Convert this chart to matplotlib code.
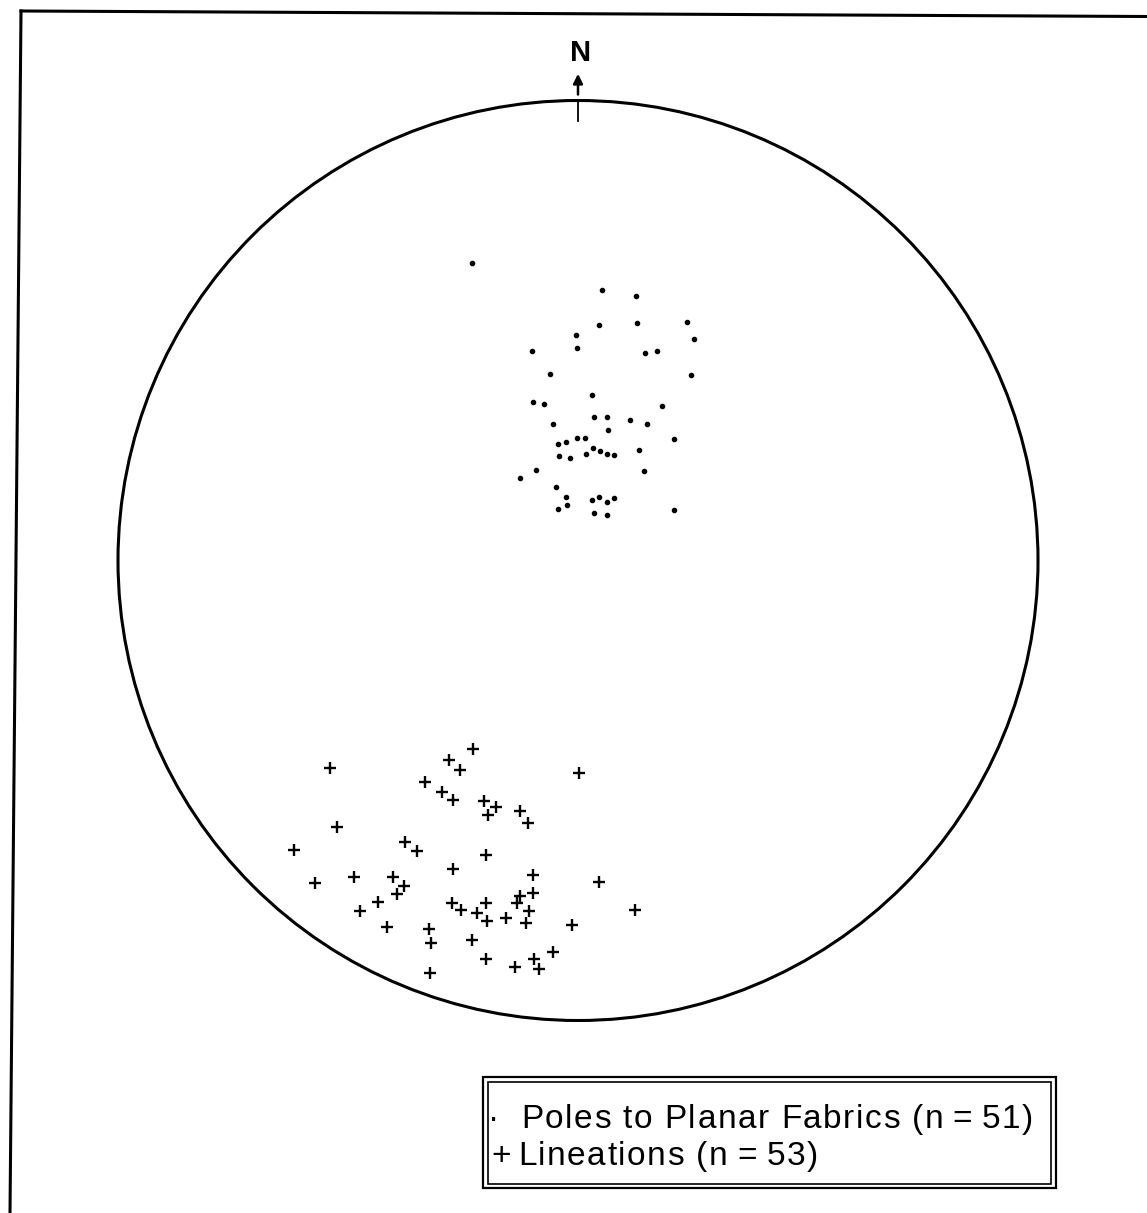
import matplotlib
matplotlib.use("Agg")
import numpy as np
import matplotlib.pyplot as plt
from matplotlib.patches import Circle, Rectangle
from matplotlib.lines import Line2D
from matplotlib.font_manager import findfont, FontProperties
from matplotlib.ft2font import FT2Font

# equal-area net coordinates (unit circle, x = east, y = north)
poles_x = [-0.230, 0.053, 0.125, 0.046, 0.129, 0.238, 0.252, -0.004, -0.002, -0.101,
           0.146, 0.171, -0.061, 0.246, 0.030, -0.097, -0.073, 0.183, 0.035, 0.062,
           -0.055, 0.112, 0.150, 0.065, 0.209, -0.002, 0.015, -0.043, -0.027, 0.032,
           0.048, 0.018, 0.062, 0.078, 0.133, -0.042, -0.017, -0.091, 0.143, -0.127,
           -0.048, -0.026, 0.031, 0.046, 0.078, 0.062, -0.024, -0.043, 0.209, 0.035,
           0.062]
poles_y = [0.647, 0.588, 0.574, 0.511, 0.516, 0.518, 0.482, 0.490, 0.463, 0.456,
           0.451, 0.455, 0.405, 0.403, 0.359, 0.344, 0.340, 0.336, 0.313, 0.313,
           0.297, 0.305, 0.296, 0.284, 0.265, 0.266, 0.266, 0.254, 0.258, 0.244,
           0.239, 0.232, 0.232, 0.229, 0.240, 0.227, 0.223, 0.197, 0.194, 0.179,
           0.160, 0.139, 0.132, 0.137, 0.135, 0.127, 0.120, 0.111, 0.110, 0.104,
           0.100]

lin_x = [-0.228, -0.280, -0.257, 0.003, -0.333, -0.296, -0.271, -0.204, -0.179, -0.196,
         -0.126, -0.108, -0.377, -0.349, -0.200, -0.272, -0.098, 0.045, -0.378, -0.097,
         -0.126, -0.133, -0.275, -0.254, -0.200, -0.220, -0.197, -0.157, -0.106, -0.112,
         0.124, -0.012, -0.323, -0.320, -0.231, -0.055, -0.201, -0.138, -0.095, -0.084,
         -0.322, -0.539, -0.523, -0.617, -0.572, -0.487, -0.403, -0.394, -0.434, -0.474,
         -0.415]
lin_y = [-0.410, -0.434, -0.455, -0.463, -0.482, -0.504, -0.521, -0.523, -0.535, -0.553,
         -0.544, -0.571, -0.612, -0.632, -0.640, -0.671, -0.683, -0.699, -0.708, -0.723,
         -0.729, -0.745, -0.745, -0.760, -0.745, -0.767, -0.783, -0.777, -0.763, -0.789,
         -0.760, -0.792, -0.802, -0.832, -0.825, -0.850, -0.866, -0.883, -0.866, -0.889,
         -0.896, -0.450, -0.580, -0.629, -0.702, -0.689, -0.689, -0.725, -0.742, -0.763,
         -0.796]

n_poles = 51
n_lin = 53
legend_labels = ['Poles to Planar Fabrics (n\u2009=\u2009%d)' % n_poles,
                 'Lineations (n\u2009=\u2009%d)' % n_lin]
legend_symbols = ['\u00b7', '+']

W, H = 1147, 1213
DPI = 100
FONT = 'Liberation Sans'
fig = plt.figure(figsize=(W / DPI, H / DPI), dpi=DPI)
fig.patch.set_facecolor('white')
plt.rcParams['font.family'] = [FONT, 'DejaVu Sans']


def fx(px):
    return px / W


def fy(py):
    return 1 - py / H


def advances(s, size):
    f = FT2Font(findfont(FontProperties(family=FONT)), hinting_factor=1)
    f.set_size(size, DPI)
    return [f.load_char(ord(c)).linearHoriAdvance / 65536.0 for c in s]


def tracked_text(x, y, s, size, track):
    # old typeset look: letters drawn one by one with a little extra spacing
    for c, adv in zip(s, advances(s, size)):
        fig.text(fx(x), fy(y), c, fontsize=size, ha='left', va='baseline')
        x += adv + track


# net: centre (578, 560.5) px, radius 460 px
ax = fig.add_axes([fx(118), fy(1020.5), 920 / W, 920 / H])
ax.set_xlim(-1, 1)
ax.set_ylim(-1, 1)
ax.axis('off')

ax.add_patch(Circle((0, 0), 1, fill=False, lw=2.2, color='black', clip_on=False))
ax.plot([0, 0], [1.0, 0.955], color='black', lw=1.3, clip_on=False)
ax.annotate('', xy=(0, 1.058), xytext=(0, 1.013),
            arrowprops=dict(arrowstyle='-|>', color='black', lw=1.8,
                            mutation_scale=14, shrinkA=0, shrinkB=0),
            annotation_clip=False)
ax.text(0.006, 1.104, 'N', ha='center', va='center', fontsize=21,
        fontweight='bold', clip_on=False)

ax.plot(poles_x, poles_y, 'o', color='black', markersize=3.0, clip_on=False)
ax.plot(lin_x, lin_y, '+', color='black', markersize=8, markeredgewidth=1.7,
        clip_on=False)

# frame lines of the page
fig.add_artist(Line2D([fx(21), fx(1147)], [fy(11), fy(16.5)], color='black', lw=2.2))
fig.add_artist(Line2D([fx(21), fx(10)], [fy(11), fy(1213)], color='black', lw=2.2))

# legend box (double frame)
fig.add_artist(Rectangle((fx(483), fy(1188)), fx(1056) - fx(483), fy(1077) - fy(1188),
                         fill=False, lw=1.6, color='black', transform=fig.transFigure))
fig.add_artist(Rectangle((fx(488), fy(1184)), fx(1051) - fx(488), fy(1082) - fy(1184),
                         fill=False, lw=1.2, color='black', transform=fig.transFigure))

size = 24
natural = sum(advances(legend_labels[0], size))
track = (1033 - 521 - natural) / (len(legend_labels[0]) - 1)
fig.text(fx(488), fy(1128), legend_symbols[0], fontsize=size, ha='left', va='baseline')
tracked_text(521, 1128, legend_labels[0], size, track)
fig.text(fx(491), fy(1165), legend_symbols[1], fontsize=size, ha='left', va='baseline')
tracked_text(518, 1165, legend_labels[1], size, track)

fig.savefig('out.png', dpi=DPI, facecolor='white')
